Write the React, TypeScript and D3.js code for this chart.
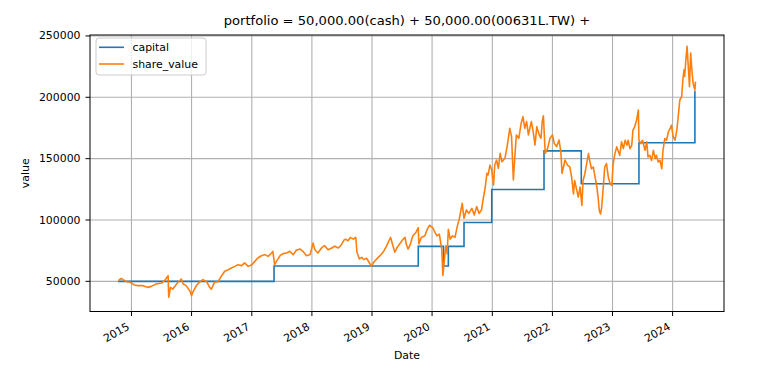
import React from "react";
import * as d3 from "d3";

// x ticks (years) and y ticks
const yearTicks = [2015, 2016, 2017, 2018, 2019, 2020, 2021, 2022, 2023, 2024];
const valueTicks = [50000, 100000, 150000, 200000, 250000];

// capital: step series [decimal year, value]
const capital: [number, number][] = [
  [2014.78, 50000], [2017.37, 62500], [2019.77, 78500], [2020.19, 62500],
  [2020.27, 78500], [2020.53, 98000], [2020.99, 124800], [2021.86, 156300],
  [2022.48, 129500], [2023.44, 163000], [2024.37, 204700], [2024.38, 204700],
];

// share_value: [decimal year, value]
const shareValue: [number, number][] = [
  [2014.78, 50500], [2014.83, 52400], [2014.86, 51400], [2014.92, 49700], [2014.98, 49200],
  [2015.05, 47000], [2015.11, 46500], [2015.19, 46500], [2015.27, 45100], [2015.33, 45900],
  [2015.41, 47800], [2015.50, 48600], [2015.55, 50500], [2015.61, 54600], [2015.62, 37000],
  [2015.65, 45100], [2015.69, 43700], [2015.75, 47800], [2015.80, 50500], [2015.83, 51900],
  [2015.86, 47800], [2015.91, 46500], [2015.97, 42400], [2016.00, 38300], [2016.02, 41000],
  [2016.08, 46500], [2016.13, 49200], [2016.19, 51400], [2016.25, 49700], [2016.30, 45100],
  [2016.33, 43700], [2016.38, 49200], [2016.44, 49700], [2016.50, 54600], [2016.55, 58200],
  [2016.61, 59500], [2016.66, 60900], [2016.72, 62200], [2016.77, 63600], [2016.83, 62800],
  [2016.88, 65000], [2016.94, 62200], [2017.00, 63600], [2017.05, 66300], [2017.10, 69000],
  [2017.16, 70900], [2017.22, 71800], [2017.27, 70400], [2017.33, 73100], [2017.35, 74500],
  [2017.38, 63600], [2017.41, 66300], [2017.47, 70900], [2017.52, 72600], [2017.58, 73100],
  [2017.63, 74500], [2017.69, 71800], [2017.74, 75300], [2017.80, 76400], [2017.85, 74500],
  [2017.91, 70900], [2017.97, 71800], [2018.02, 81300], [2018.05, 75800], [2018.10, 73100],
  [2018.16, 77200], [2018.21, 79100], [2018.27, 75800], [2018.33, 77200], [2018.38, 78600],
  [2018.44, 77200], [2018.49, 79900], [2018.54, 84000], [2018.56, 84400], [2018.60, 83100],
  [2018.64, 85800], [2018.69, 84400], [2018.73, 85800], [2018.75, 73700], [2018.79, 68300],
  [2018.83, 69600], [2018.86, 67700], [2018.91, 68800], [2018.95, 65600], [2018.99, 62400],
  [2019.03, 65600], [2019.08, 68300], [2019.12, 70400], [2019.16, 72300], [2019.20, 75000],
  [2019.24, 78500], [2019.29, 83900], [2019.31, 85800], [2019.34, 80400], [2019.38, 73700],
  [2019.42, 77700], [2019.46, 80400], [2019.51, 83900], [2019.55, 85800], [2019.57, 80400],
  [2019.60, 76300], [2019.64, 80400], [2019.68, 87100], [2019.73, 89800], [2019.77, 93800],
  [2019.78, 80400], [2019.82, 85800], [2019.88, 87100], [2019.92, 92500], [2019.96, 95700],
  [2020.01, 93800], [2020.05, 89800], [2020.08, 87100], [2020.12, 88400], [2020.16, 76300],
  [2020.18, 54800], [2020.21, 71000], [2020.23, 79000], [2020.25, 72300], [2020.27, 92500],
  [2020.30, 84400], [2020.34, 87100], [2020.38, 85800], [2020.42, 95200], [2020.45, 100500],
  [2020.50, 113600], [2020.53, 101400], [2020.57, 108200], [2020.61, 105400], [2020.66, 109500],
  [2020.70, 104100], [2020.74, 110900], [2020.78, 105400], [2020.82, 108200], [2020.85, 117700],
  [2020.88, 125800], [2020.91, 138000], [2020.93, 136700], [2020.96, 144800], [2020.99, 140800],
  [2021.02, 128500], [2021.04, 144800], [2021.07, 148900], [2021.10, 142100], [2021.13, 154300],
  [2021.16, 147500], [2021.21, 150300], [2021.25, 161100], [2021.29, 174700], [2021.32, 167900],
  [2021.35, 132600], [2021.38, 155700], [2021.40, 169300], [2021.44, 166600], [2021.48, 178800],
  [2021.51, 184200], [2021.54, 174700], [2021.57, 180200], [2021.60, 169300], [2021.63, 176100],
  [2021.65, 180200], [2021.68, 172000], [2021.71, 161100], [2021.74, 176100], [2021.78, 169300],
  [2021.81, 166600], [2021.83, 180200], [2021.85, 185000], [2021.88, 154300], [2021.92, 158400],
  [2021.96, 166600], [2022.00, 169300], [2022.03, 162500], [2022.07, 159800], [2022.11, 165200],
  [2022.14, 155700], [2022.16, 138000], [2022.21, 148900], [2022.25, 144800], [2022.29, 143200],
  [2022.32, 135000], [2022.35, 121300], [2022.37, 132200], [2022.40, 125400], [2022.43, 118600],
  [2022.46, 126800], [2022.49, 111800], [2022.51, 132200], [2022.54, 137700], [2022.57, 145900],
  [2022.60, 154100], [2022.62, 148600], [2022.65, 141800], [2022.68, 143200], [2022.71, 135000],
  [2022.74, 126800], [2022.76, 118600], [2022.78, 107700], [2022.80, 104900], [2022.82, 110400],
  [2022.85, 129500], [2022.87, 143200], [2022.90, 145900], [2022.93, 135000], [2022.96, 129500],
  [2022.99, 128100], [2023.01, 145900], [2023.04, 154100], [2023.07, 159600], [2023.10, 155500],
  [2023.12, 152700], [2023.15, 163700], [2023.18, 158200], [2023.21, 165000], [2023.24, 160900],
  [2023.26, 165000], [2023.29, 158200], [2023.32, 160900], [2023.34, 173200], [2023.37, 176000],
  [2023.40, 181400], [2023.43, 189600], [2023.44, 165000], [2023.47, 162300], [2023.50, 165000],
  [2023.54, 156800], [2023.57, 163700], [2023.59, 151400], [2023.62, 152700], [2023.65, 148600],
  [2023.68, 156800], [2023.71, 150000], [2023.73, 152700], [2023.76, 147300], [2023.79, 148600],
  [2023.82, 141800], [2023.84, 156800], [2023.87, 166400], [2023.90, 165000], [2023.93, 171900],
  [2023.96, 174600], [2023.98, 177300], [2024.01, 167800], [2024.04, 165000], [2024.07, 173200],
  [2024.09, 182800], [2024.12, 197800], [2024.15, 200500], [2024.17, 214200], [2024.19, 222400],
  [2024.20, 216900], [2024.22, 230600], [2024.24, 241500], [2024.26, 225100], [2024.28, 208700],
  [2024.30, 236100], [2024.32, 222400], [2024.34, 211500], [2024.37, 206000], [2024.38, 212800],
];

const titleText = "portfolio = 50,000.00(cash) + 50,000.00(00631L.TW) +";
const seriesNames = ["capital", "share_value"];
const seriesColors = ["#1f77b4", "#ff7f0e"];

function toDate(y: number): Date {
  const Y = Math.floor(y);
  const s = Date.UTC(Y, 0, 1);
  const e = Date.UTC(Y + 1, 0, 1);
  return new Date(s + (y - Y) * (e - s));
}

const W = 780, H = 377;
const L = 90, R = 724, T = 35, B = 311.5;
const FS = 10.9;
const FONT = "DejaVu Sans, sans-serif";

export default function App() {
  const x = d3.scaleUtc().domain([toDate(2014.31), toDate(2024.853)]).range([L, R]);
  const y = d3.scaleLinear().domain([25430, 250770]).range([B, T]);

  const stepLine = d3.line<[number, number]>()
    .x((d) => x(toDate(d[0])))
    .y((d) => y(d[1]))
    .curve(d3.curveStepAfter);
  const line = d3.line<[number, number]>()
    .x((d) => x(toDate(d[0])))
    .y((d) => y(d[1]));

  const tickLen = 4.5;

  return (
    <svg width={W} height={H} style={{ position: "absolute", left: 0, top: 0, background: "#fff" }} fontFamily={FONT}>
      <rect x={0} y={0} width={W} height={H} fill="#fff" />
      <defs>
        <clipPath id="plotclip">
          <rect x={L} y={T} width={R - L} height={B - T} />
        </clipPath>
      </defs>
      {/* grid */}
      {yearTicks.map((yr) => {
        const px = x(toDate(yr));
        return <line key={"gx" + yr} x1={px} x2={px} y1={T} y2={B} stroke="#b0b0b0" strokeWidth={1.1} />;
      })}
      {valueTicks.map((v) => {
        const py = y(v);
        return <line key={"gy" + v} x1={L} x2={R} y1={py} y2={py} stroke="#b0b0b0" strokeWidth={1.1} />;
      })}
      {/* series */}
      <g clipPath="url(#plotclip)">
        <path d={stepLine(capital) || ""} fill="none" stroke={seriesColors[0]} strokeWidth={1.6} />
        <path d={line(shareValue) || ""} fill="none" stroke={seriesColors[1]} strokeWidth={1.6} strokeLinejoin="round" />
      </g>
      {/* frame */}
      <rect x={L} y={T} width={R - L} height={B - T} fill="none" stroke="#000" strokeWidth={1} />
      {/* y ticks */}
      {valueTicks.map((v) => {
        const py = y(v);
        return (
          <g key={"yt" + v}>
            <line x1={L - tickLen} x2={L} y1={py} y2={py} stroke="#000" strokeWidth={1} />
            <text x={L - tickLen - 5} y={py} textAnchor="end" dominantBaseline="central" fontSize={FS} fill="#000">
              {v}
            </text>
          </g>
        );
      })}
      {/* x ticks */}
      {yearTicks.map((yr) => {
        const px = x(toDate(yr));
        const bx = px - 1.3;
        const by = B + tickLen + 4 + 8.7;
        return (
          <g key={"xt" + yr}>
            <line x1={px} x2={px} y1={B} y2={B + tickLen} stroke="#000" strokeWidth={1} />
            <text x={bx} y={by} textAnchor="end" fontSize={FS} fill="#000" transform={`rotate(-30, ${bx}, ${by})`}>
              {yr}
            </text>
          </g>
        );
      })}
      {/* labels */}
      <text x={(L + R) / 2} y={25} textAnchor="middle" fontSize={13.1} fill="#000">{titleText}</text>
      <text x={(L + R) / 2} y={359} textAnchor="middle" fontSize={FS} fill="#000">Date</text>
      <text x={29} y={(T + B) / 2} textAnchor="middle" fontSize={FS} fill="#000" transform={`rotate(-90, 29, ${(T + B) / 2})`}>value</text>
      {/* legend */}
      <rect x={96} y={38} width={110} height={37} rx={3} fill="#fff" fillOpacity={0.8} stroke="#cccccc" strokeWidth={1} />
      {seriesNames.map((n, i) => {
        const ly = 47.3 + i * 16.7;
        return (
          <g key={n}>
            <line x1={99} x2={124} y1={ly} y2={ly} stroke={seriesColors[i]} strokeWidth={1.6} />
            <text x={132.5} y={ly} dominantBaseline="central" fontSize={FS} fill="#000">{n}</text>
          </g>
        );
      })}
    </svg>
  );
}
